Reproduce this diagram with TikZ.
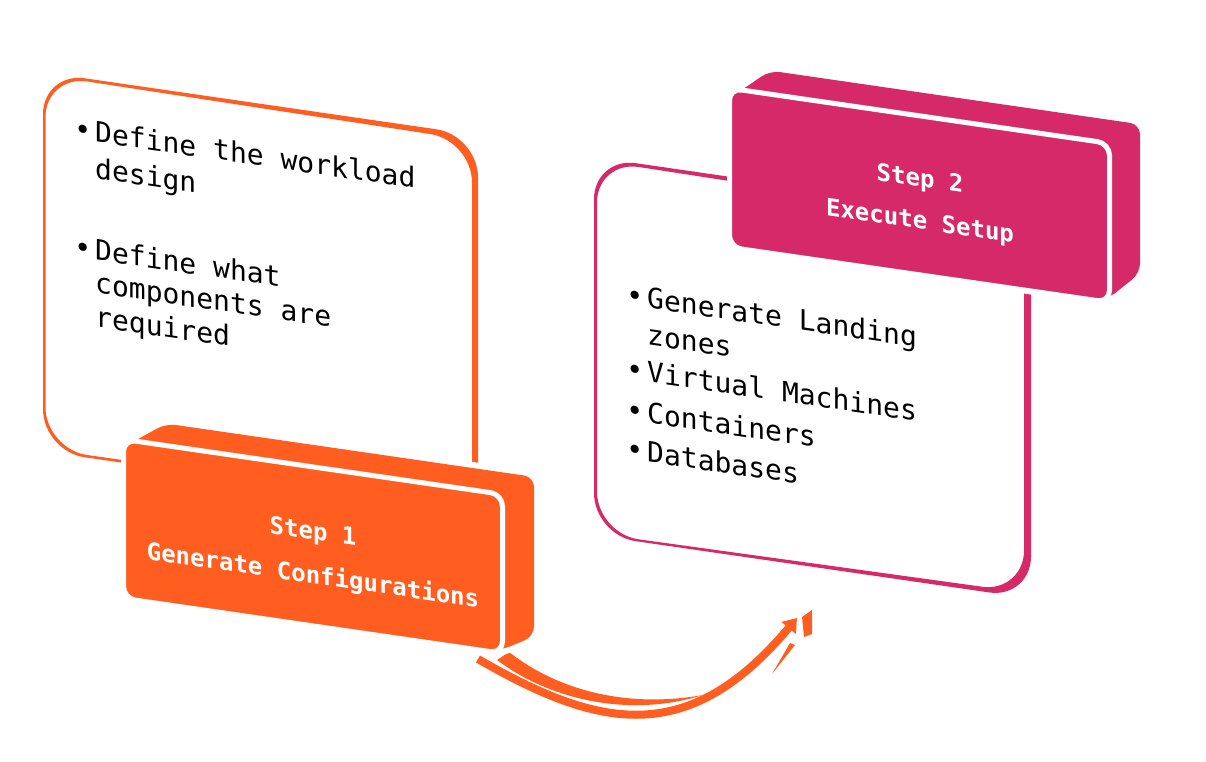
\documentclass[tikz,border=0pt]{standalone}
\usepackage{fontspec}
\setmonofont{DejaVu Sans Mono}
\usetikzlibrary{arrows.meta}
\definecolor{stepone}{RGB}{255,94,32}
\definecolor{steptwo}{RGB}{214,42,104}
\tikzset{
  itemtext/.style={anchor=base west,inner sep=0pt,
    font=\ttfamily\fontsize{28}{36}\selectfont,transform shape},
  steptext/.style={anchor=base,inner sep=0pt,
    font=\ttfamily\bfseries\fontsize{24}{30}\selectfont,text=white,transform shape},
  halo/.style={preaction={draw=white,line width=12pt}},
  face/.style={draw=white,line width=5pt,rounded corners=12pt},
}
% bullet and a space that keeps a line in one run
\newcommand{\blt}{\llap{\textbullet\hspace{4pt}}}
\newcommand{\nbs}{^^^^00a0}
\begin{document}
\begin{tikzpicture}[x=1pt,y=-1pt,>={Triangle[width=18pt,length=13pt]}]
\fill[white] (0,0) rectangle (1206,762);
\useasboundingbox (0,0) rectangle (1206,762);
%%
\begin{scope}[yslant=-0.145]
  % outlines of the two panels
  \fill[stepone,even odd rule,rounded corners=42pt]
    (43,66) -- (478,66) -- (478,445) -- (43,445) -- cycle
    (45.5,68.5) -- (472,72) -- (472,441) -- (45.5,442.5) -- cycle;
  \fill[steptwo,even odd rule,rounded corners=42pt]
    (594,71) -- (1031,71) -- (1031,449) -- (594,449) -- cycle
    (597,74) -- (1024,78) -- (1024,444) -- (597,447) -- cycle;
\end{scope}
%
\coordinate (arrS) at (478,659);
\coordinate (arrE) at (797,618);
\draw[stepone,line width=8pt,->] (arrS) .. controls (599,729) and (688,748) .. (arrE);
\fill[stepone] (497,660) .. controls (550,700) and (630,718) .. (703,695)
  .. controls (630,708) and (560,692) .. (509,652) -- cycle;
\fill[stepone] (772,674) -- (790,643) -- (795,645) -- cycle;
\fill[stepone] (802,617) -- (812,610) -- (812,634) -- (804,637) -- cycle;
%
\begin{scope}[yslant=-0.145]
  % step boxes
  \fill[stepone,halo,rounded corners=10pt] (128,426) -- (166,399.5) -- (534,399.5) -- (534,559) -- (500,578) -- (128,578) -- cycle;
  \filldraw[fill=stepone,face] (123.5,421.5) rectangle (502.5,580.5);
  \fill[steptwo,halo,rounded corners=10pt] (735,-12) -- (770,-41) -- (1140,-41) -- (1140,108) -- (1107,139) -- (735,139) -- cycle;
  \filldraw[fill=steptwo,face] (729.5,-17.5) rectangle (1109.5,141.5);
  % texts
  \node[steptext] (step1) at (313,494) {Step\nbs 1};
  \node[steptext] (step1name) at (313,538) {Generate\nbs Configurations};
  \node[steptext] (step2) at (920,53) {Step\nbs 2};
  \node[steptext] (step2name) at (920,95.5) {Execute\nbs Setup};
  \node[itemtext] (design) at (95,128) {\blt Define\nbs the\nbs workload};
  \node[itemtext] (design2) at (95,164.5) {design};
  \node[itemtext] (needs) at (95,246) {\blt Define\nbs what};
  \node[itemtext] (needs2) at (95,279) {components\nbs are};
  \node[itemtext] (needs3) at (95,313) {required};
  \node[itemtext] (zones) at (647,214) {\blt Generate\nbs Landing};
  \node[itemtext] (zones2) at (647,251) {zones};
  \node[itemtext] (vms) at (647,288) {\blt Virtual\nbs Machines};
  \node[itemtext] (containers) at (647,329) {\blt Containers};
  \node[itemtext] (databases) at (647,368) {\blt Databases};
\end{scope}
%
\end{tikzpicture}
\end{document}
